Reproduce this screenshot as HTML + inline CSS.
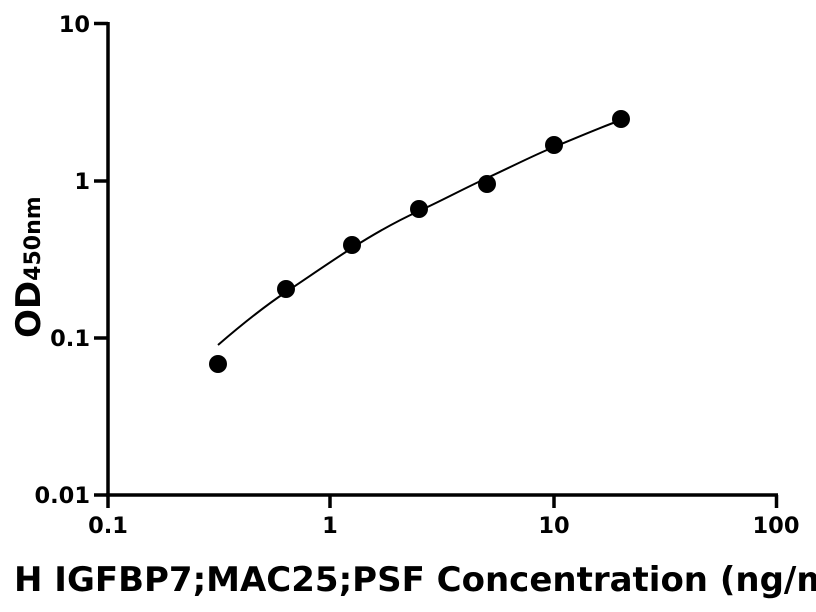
<!DOCTYPE html>
<html><head><style>body{margin:0;background:#fff;overflow:hidden}svg{display:block}text{font-family:"DejaVu Sans","Liberation Sans",sans-serif;font-weight:bold;fill:#000}</style></head>
<body>
<svg width="816" height="612" viewBox="0 0 816 612">
<g stroke="#000" stroke-width="3.5" fill="none">
<line x1="108" y1="22" x2="108" y2="496"/>
<line x1="106" y1="495" x2="778" y2="495"/>
<line x1="94" y1="23.5" x2="108" y2="23.5"/>
<line x1="94" y1="181" x2="108" y2="181"/>
<line x1="94" y1="338" x2="108" y2="338"/>
<line x1="94" y1="495" x2="108" y2="495"/>
<line x1="108" y1="495" x2="108" y2="508"/>
<line x1="330" y1="495" x2="330" y2="508"/>
<line x1="554" y1="495" x2="554" y2="508"/>
<line x1="776.5" y1="495" x2="776.5" y2="508"/>
</g>
<path d="M218,345 C240,326 262,308 286,292 S330,262 352,248 S397,221 419,211 S465,188 487,178 S532,156 554,147 S599,128 621,120" stroke="#000" stroke-width="2" fill="none"/>
<g fill="#000">
<circle cx="218" cy="364" r="9"/><circle cx="286" cy="289" r="9"/><circle cx="352" cy="245" r="9"/><circle cx="419" cy="209" r="9"/><circle cx="487" cy="184" r="9"/><circle cx="554" cy="145" r="9"/><circle cx="621" cy="119" r="9"/>
</g>
<g font-size="22.5" text-anchor="end">
<text x="90" y="32">10</text><text x="90" y="189">1</text><text x="90" y="346">0.1</text><text x="90" y="503">0.01</text>
</g>
<g font-size="22.5" text-anchor="middle">
<text x="108" y="533">0.1</text><text x="330" y="533">1</text><text x="554" y="533">10</text><text x="776" y="533">100</text>
</g>
<text transform="translate(40,338) rotate(-90)" font-size="34">OD<tspan font-size="22">450nm</tspan></text>
<text x="14" y="591" font-size="34">H IGFBP7;MAC25;PSF Concentration (ng/mL)</text>
</svg>
</body></html>
